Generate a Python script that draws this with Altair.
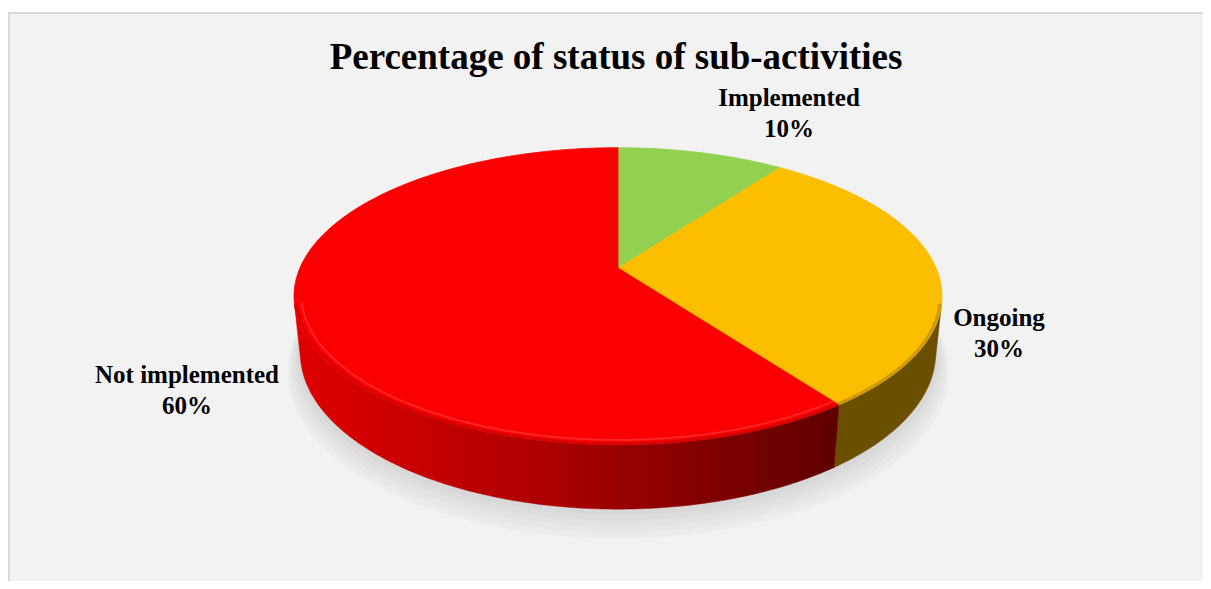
import numpy as np
import pandas as pd
import altair as alt

# ---------------- data ----------------
categories = ["Implemented", "Ongoing", "Not implemented"]
percent = [10, 30, 60]
top_colors = ["#92D050", "#FBBE00", "#FA0000"]
title_text = "Percentage of status of sub-activities"

# ---------------- layout / style ----------------
W, H = 1195, 569          # view size
X0, Y0 = 8, 12            # page position of view
CX, CY = 618, 268         # pie apex on page
F, D, SIN, COS, T = 1495.0, 4.7, 0.45, 0.893, 0.2   # 3-D projection of the pie
label_x = [789, 999, 187]
label_y = [106, 326, 383]
LINE_GAP = 31
FONT = "Liberation Serif"


def proj(u, v, y):
    zc = D + v * COS - y * SIN
    return CX + F * u / zc, CY - F * (v * SIN + y * COS) / zc


rows = []


def add(kind, name, pts):
    for i, (px, py) in enumerate(pts):
        rows.append({"kind": kind, "slice": name, "i": i, "x": px, "y": py})


cum = np.cumsum([0] + percent) / sum(percent) * 2 * np.pi
vis_lo = np.arccos(-1.0 / (D * COS))
vis_hi = 2 * np.pi - vis_lo

for k, cat in enumerate(categories):
    a, b = cum[k], cum[k + 1]
    n = max(10, int(200 * (b - a) / np.pi))
    th = np.linspace(a, b, n)
    # top wedge
    add("top", cat, [proj(0, 0, 0)] + [proj(np.sin(t), np.cos(t), 0) for t in th])
    # visible side
    lo, hi = max(a, vis_lo), min(b, vis_hi)
    if hi > lo:
        ts = np.linspace(lo, hi, max(10, int(200 * (hi - lo) / np.pi)))
        pts = [proj(np.sin(t), np.cos(t), 0) for t in ts] + \
              [proj(np.sin(t), np.cos(t), -T) for t in ts[::-1]]
        add("side", cat, pts)
        # bevel lines on the front rim
        add("bevel_in", cat, [proj(0.978 * np.sin(t), 0.978 * np.cos(t), 0) for t in ts])
        add("bevel_edge", cat, [proj(0.995 * np.sin(t), 0.995 * np.cos(t), 0) for t in ts])

# soft shadow under the pie
full = np.linspace(0, 2 * np.pi, 240)
for j in range(1, 6):
    r = 1.0 + 0.009 * j
    add("shadow", f"s{j}", [proj(r * np.sin(t), r * np.cos(t), -T - 0.012 * j) for t in full])

df = pd.DataFrame(rows)

labels = pd.DataFrame({
    "name": categories,
    "pct": [f"{p}%" for p in percent],
    "lx": label_x,
    "ly": label_y,
})
labels["ly2"] = labels["ly"] + LINE_GAP

xs = alt.Scale(domain=[X0, X0 + W], nice=False, zero=False)
ys = alt.Scale(domain=[Y0, Y0 + H], nice=False, zero=False, reverse=True)
X = alt.X("x:Q", scale=xs, axis=None)
Y = alt.Y("y:Q", scale=ys, axis=None)
O = alt.Order("i:Q")

base = alt.Chart(df)

shadow = base.transform_filter(alt.datum.kind == "shadow").mark_line(
    interpolate="linear-closed", fill="#808080", fillOpacity=0.05, strokeOpacity=0
).encode(x=X, y=Y, order=O, detail="slice:N")

red_grad = alt.LinearGradient(
    gradient="linear",
    stops=[alt.GradientStop(color="#E00000", offset=0),
           alt.GradientStop(color="#A80000", offset=0.5),
           alt.GradientStop(color="#5E0000", offset=1)],
    x1=0, x2=1, y1=0, y2=0)

side_red = base.transform_filter(
    (alt.datum.kind == "side") & (alt.datum.slice == "Not implemented")
).mark_line(interpolate="linear-closed", fill=red_grad, stroke=red_grad, strokeWidth=0.5
).encode(x=X, y=Y, order=O)

side_orange = base.transform_filter(
    (alt.datum.kind == "side") & (alt.datum.slice == "Ongoing")
).mark_line(interpolate="linear-closed", fill="#6A4F00", stroke="#6A4F00", strokeWidth=0.5
).encode(x=X, y=Y, order=O)

cscale = alt.Scale(domain=categories, range=top_colors)
top = base.transform_filter(alt.datum.kind == "top").mark_line(
    interpolate="linear-closed", strokeWidth=0.8
).encode(
    x=X, y=Y, order=O,
    color=alt.Color("slice:N", scale=cscale, legend=None),
    fill=alt.Fill("slice:N", scale=cscale, legend=None),
)

bevel_red_in = base.transform_filter(
    (alt.datum.kind == "bevel_in") & (alt.datum.slice == "Not implemented")
).mark_line(stroke="#FF5A5A", strokeWidth=2, strokeOpacity=0.4).encode(x=X, y=Y, order=O)
bevel_red_edge = base.transform_filter(
    (alt.datum.kind == "bevel_edge") & (alt.datum.slice == "Not implemented")
).mark_line(stroke="#B00000", strokeWidth=2.5, strokeOpacity=0.45).encode(x=X, y=Y, order=O)
bevel_or_edge = base.transform_filter(
    (alt.datum.kind == "bevel_edge") & (alt.datum.slice == "Ongoing")
).mark_line(stroke="#B08400", strokeWidth=3, strokeOpacity=0.6).encode(x=X, y=Y, order=O)

lab = alt.Chart(labels)
name_txt = lab.mark_text(font=FONT, fontSize=25, fontWeight="bold", color="black",
                         align="center", baseline="alphabetic").encode(
    x=alt.X("lx:Q", scale=xs, axis=None), y=alt.Y("ly:Q", scale=ys, axis=None), text="name:N")
pct_txt = lab.mark_text(font=FONT, fontSize=25, fontWeight="bold", color="black",
                        align="center", baseline="alphabetic").encode(
    x=alt.X("lx:Q", scale=xs, axis=None), y=alt.Y("ly2:Q", scale=ys, axis=None), text="pct:N")

title = alt.Chart(pd.DataFrame({"t": [title_text]})).mark_text(
    font=FONT, fontSize=37, fontWeight="bold", color="black", align="center", baseline="alphabetic"
).encode(x=alt.value(616 - X0), y=alt.value(69 - Y0), text="t:N")

border_left = alt.Chart(pd.DataFrame({"a": [0]})).mark_rule(color="#D9D9D9", strokeWidth=2).encode(
    x=alt.value(1), y=alt.value(0), y2=alt.value(H))
border_top = alt.Chart(pd.DataFrame({"a": [0]})).mark_rule(color="#D9D9D9", strokeWidth=2).encode(
    x=alt.value(0), x2=alt.value(W), y=alt.value(1))

chart = alt.layer(
    shadow, side_orange, side_red, top, bevel_red_edge, bevel_red_in, bevel_or_edge,
    name_txt, pct_txt, title, border_left, border_top
).properties(
    width=W, height=H,
    autosize=alt.AutoSizeParams(type="none"),
    padding={"left": 0, "top": 4, "right": 0, "bottom": 0},
    background="white",
).configure_view(fill="#F2F2F2", stroke=None)

chart.save("out.html", embed_options={"renderer": "svg", "actions": False})
